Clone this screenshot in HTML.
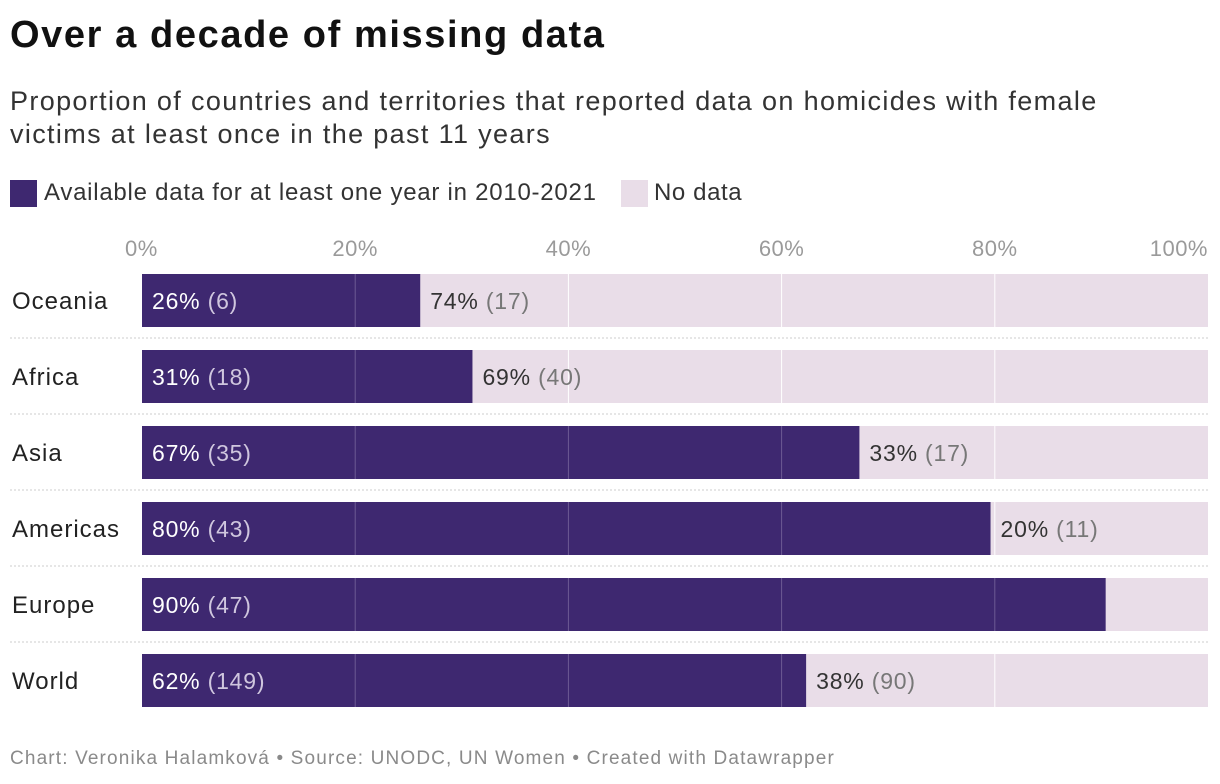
<!DOCTYPE html>
<html><head><meta charset="utf-8">
<style>
body{margin:0;width:1220px;height:784px;background:#fff;font-family:"Liberation Sans",sans-serif;overflow:hidden;position:relative}
.t{position:absolute;white-space:nowrap}
</style></head>
<body>
<div class="t" style="left:10px;top:14px;font-size:38px;font-weight:bold;color:#111;letter-spacing:1.6px">Over a decade of missing data</div>
<div class="t" style="left:10px;top:85px;font-size:27px;color:#333;line-height:33px;letter-spacing:1.35px">Proportion of countries and territories that reported data on homicides with female<br>victims at least once in the past 11 years</div>
<div style="position:absolute;left:10px;top:178px;height:30px;font-size:24px;color:#333">
 <span style="position:absolute;left:0;top:2px;width:27px;height:27px;background:#3e2870"></span>
 <span class="t" style="left:34px;top:1px;letter-spacing:0.75px">Available data for at least one year in 2010-2021</span>
 <span style="position:absolute;left:611px;top:2px;width:27px;height:27px;background:#e9dde8"></span>
 <span class="t" style="left:644px;top:1px;letter-spacing:0.6px">No data</span>
</div>
<svg id="c" width="1220" height="784" style="position:absolute;left:0;top:0"></svg>
<div class="t" style="left:10px;top:748px;font-size:19px;color:#8a8a8a;letter-spacing:1.15px">Chart: Veronika Halamková • Source: UNODC, UN Women • Created with Datawrapper</div>
<script>
const regions=["Oceania","Africa","Asia","Americas","Europe","World"];
const availPct=[26.1,31.0,67.3,79.6,90.4,62.3];
const availCount=[6,18,35,43,47,149];
const noPct=[74,69,33,20,10,38];
const noCount=[17,40,17,11,5,90];
const ticks=[0,20,40,60,80,100];
const NS="http://www.w3.org/2000/svg";
const svg=document.getElementById('c');
const x0=142,x1=1208;
const xs=v=>x0+(x1-x0)*v/100;
const rowY=i=>274+76*i, bh=53;
function mk(t,a,p){const e=document.createElementNS(NS,t);for(const k in a)e.setAttribute(k,a[k]);(p||svg).appendChild(e);return e;}
ticks.forEach(t=>{
 const e=mk('text',{x:xs(t),y:256,'font-size':22,fill:'#9a9a9a','text-anchor':t==0?'start':(t==100?'end':'middle'),'font-family':'Liberation Sans','letter-spacing':0.5});
 
 
 e.textContent=t+'%';
 if(t==0)e.setAttribute('x',xs(t)-17);
 if(t==100)e.setAttribute('x',xs(t));
});
regions.forEach((r,i)=>{
 const y=rowY(i);
 if(i>0){const s=mk('line',{x1:10,x2:1208,y1:y-12,y2:y-12,stroke:'#ccc','stroke-dasharray':'2,2'});
 
 }
 const lb=mk('text',{x:12,y:y+35,'font-size':24,fill:'#222','font-family':'Liberation Sans','letter-spacing':1});
 
 
 lb.textContent=r;
 const bg=mk('rect',{x:xs(0),y:y,width:xs(100)-xs(0),height:bh,fill:'#e9dde8'});
 
 
 const b=mk('rect',{x:xs(0),y:y,width:xs(availPct[i])-xs(0),height:bh,fill:'#3e2870'});
 
 
 ticks.slice(1,5).forEach(t=>{
  const g=mk('line',{x1:xs(t),x2:xs(t),y1:y,y2:y+bh,stroke:xs(t)<xs(availPct[i])?'#6d5a94':'#fff','stroke-width':1});
  
  
 });
 const a=mk('text',{x:xs(0)+10,y:y+35,'font-size':23,'font-family':'Liberation Sans','letter-spacing':0.8});
 
 
 a.innerHTML='<tspan fill="#fff">'+Math.round(availPct[i])+'%</tspan><tspan fill="#cfc6de"> ('+availCount[i]+')</tspan>';
 if(noPct[i]>12){
  const n=mk('text',{x:xs(availPct[i])+10,y:y+35,'font-size':23,'font-family':'Liberation Sans','letter-spacing':0.8});
  
  
  n.innerHTML='<tspan fill="#333">'+noPct[i]+'%</tspan><tspan fill="#777"> ('+noCount[i]+')</tspan>';
 }
});
</script>
</body></html>
